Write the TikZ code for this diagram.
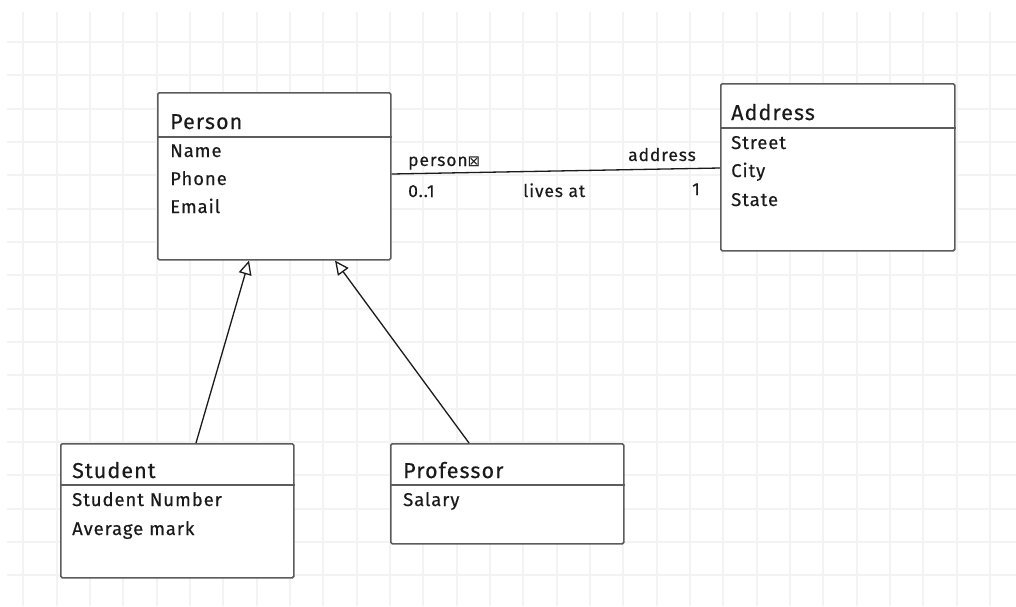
\documentclass[tikz,border=0pt]{standalone}
\usepackage{fontspec}
\setmainfont{Fira Sans}[LetterSpace=5, FakeBold=0.3]
\newfontfamily\symfont{DejaVu Sans}
\usetikzlibrary{arrows.meta}
\definecolor{gridc}{HTML}{F3F3F3}
\definecolor{boxc}{HTML}{5C5C5C}
\definecolor{inkc}{HTML}{1A1A1A}
\tikzset{
  classbox/.style={draw=boxc, line width=1.6pt, rounded corners=1.5pt, fill=white,
    anchor=north west, inner sep=0pt},
  classtitle/.style={anchor=base west, inner sep=0pt, text=inkc,
    font=\fontsize{21.5}{25}\selectfont},
  classattr/.style={anchor=base west, inner sep=0pt, text=inkc,
    font=\fontsize{18.5}{22}\selectfont},
  rolelabel/.style={anchor=base west, inner sep=0pt, text=inkc,
    font=\fontsize{17.5}{21}\selectfont},
  divider/.style={draw=boxc, line width=1.2pt},
  assoc/.style={draw=inkc, line width=1.3pt},
  generalization/.style={draw=inkc, line width=1.3pt,
    -{Triangle[open, length=14pt, width=13pt, line width=1.3pt]}},
}

\begin{document}
\begin{tikzpicture}[x=1pt, y=-1pt]
\useasboundingbox (0,0) rectangle (1016,606);
\fill[white] (0,0) rectangle (1016,606);

% background grid
\foreach \i in {0,...,29}
  \draw[gridc, line width=2pt] ({23.33+33.333*\i},12) -- ({23.33+33.333*\i},606);
\foreach \j in {0,...,16}
  \draw[gridc, line width=2pt] (7,{42+33.333*\j}) -- (1016,{42+33.333*\j});

% class boxes
\node[classbox, minimum width=233pt, minimum height=167pt] (person) at (157,92) {};
\node[classbox, minimum width=234pt, minimum height=167pt] (address) at (720,83) {};
\node[classbox, minimum width=233pt, minimum height=134pt] (student) at (60,443) {};
\node[classbox, minimum width=233pt, minimum height=100pt] (professor) at (390,443) {};

% dividers under the class names
\draw[divider] ([yshift=-45pt]person.north west) -- ([yshift=-45pt]person.north east);
\draw[divider] ([yshift=-45pt]address.north west) -- ([yshift=-45pt]address.north east);
\draw[divider] ([yshift=-42pt]student.north west) -- ([yshift=-42pt]student.north east);
\draw[divider] ([yshift=-42pt]professor.north west) -- ([yshift=-42pt]professor.north east);

% Person
\node[classtitle] (personT) at ([xshift=13pt,yshift=-37pt]person.north west) {Person};
\node[classattr] (personA) at ([xshift=13pt,yshift=-65pt]person.north west) {Name};
\node[classattr] (personB) at ([xshift=13pt,yshift=-93pt]person.north west) {Phone};
\node[classattr] (personC) at ([xshift=13pt,yshift=-121pt]person.north west) {Email};

% Address
\node[classtitle] (addressT) at ([xshift=11pt,yshift=-37pt]address.north west) {Address};
\node[classattr] (addressA) at ([xshift=11pt,yshift=-66pt]address.north west) {Street};
\node[classattr] (addressB) at ([xshift=11pt,yshift=-94pt]address.north west) {City};
\node[classattr] (addressC) at ([xshift=11pt,yshift=-123pt]address.north west) {State};

% Student
\node[classtitle] (studentT) at ([xshift=12pt,yshift=-35pt]student.north west) {Student};
\node[classattr] (studentA) at ([xshift=12pt,yshift=-63pt]student.north west) {Student Number};
\node[classattr] (studentB) at ([xshift=12pt,yshift=-92pt]student.north west) {Average mark};

% Professor
\node[classtitle] (professorT) at ([xshift=13pt,yshift=-35pt]professor.north west) {Professor};
\node[classattr] (professorA) at ([xshift=13pt,yshift=-63pt]professor.north west) {Salary};

% association Person -- Address
\draw[assoc] ([yshift=-82pt]person.north east) -- ([yshift=-85pt]address.north west);
\node[rolelabel] (roleP) at (408,166) {person{\symfont\fontsize{15}{17}\selectfont ⊠}};
\node[rolelabel] (roleA) at (628,161) {address};
\node[rolelabel] (multP) at (408,197) {0..1};
\node[rolelabel] (assocName) at (523,197) {lives at};
\node[rolelabel, anchor=base east] (multA) at (700,195) {1};

% generalizations
\draw[generalization] ([xshift=136pt]student.north west) -- ([xshift=92pt]person.south west);
\draw[generalization] ([xshift=79pt]professor.north west) -- ([xshift=178pt]person.south west);
\end{tikzpicture}
\end{document}
